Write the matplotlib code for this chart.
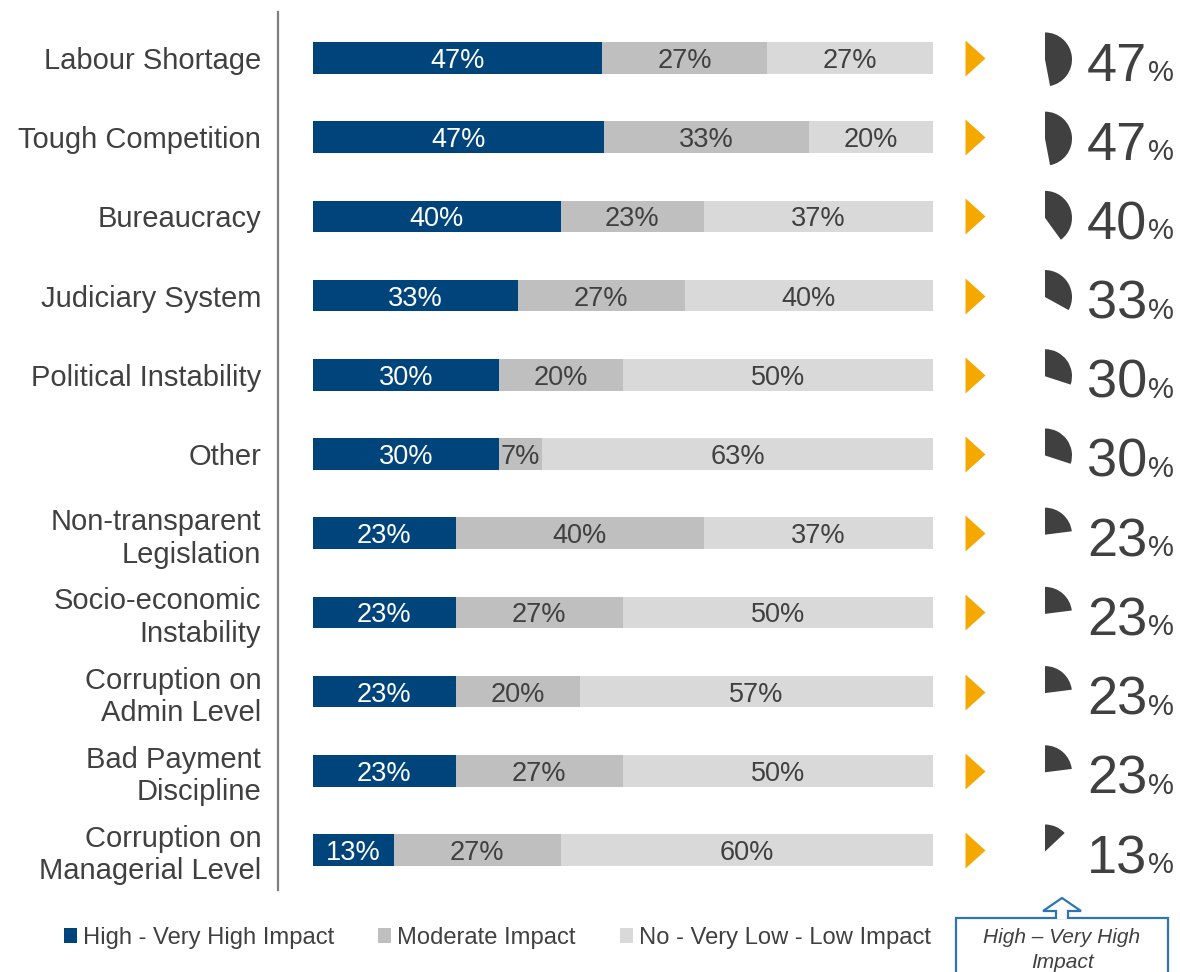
import numpy as np
import matplotlib
matplotlib.use("Agg")
import matplotlib.pyplot as plt
import matplotlib.patches as mpatches

categories = ["Labour Shortage", "Tough Competition", "Bureaucracy", "Judiciary System",
              "Political Instability", "Other", "Non-transparent\nLegislation",
              "Socio-economic\nInstability", "Corruption on\nAdmin Level",
              "Bad Payment\nDiscipline", "Corruption on\nManagerial Level"]
high = [47, 47, 40, 33, 30, 30, 23, 23, 23, 23, 13]
moderate = [27, 33, 23, 27, 20, 7, 40, 27, 20, 27, 27]
low = [27, 20, 37, 40, 50, 63, 37, 50, 57, 50, 60]
series_names = ["High - Very High Impact", "Moderate Impact", "No - Very Low - Low Impact"]

BLUE = "#00447C"
MID = "#BFBFBF"
LIGHT = "#D9D9D9"
TXT = "#404040"
ORANGE = "#F5A800"

plt.rcParams['font.family'] = ['Liberation Sans', 'DejaVu Sans']

W, H = 1180, 972
fig = plt.figure(figsize=(W / 100, H / 100), dpi=100)


def fx(px):
    return px / W


def fy(py):
    return 1 - py / H


top_px, bot_px = 12, 890
ylim = (10.505, -0.58)
k = (bot_px - top_px) / (ylim[0] - ylim[1])  # pixels per row unit

ax = fig.add_axes([fx(313), fy(bot_px), fx(933) - fx(313), fy(top_px) - fy(bot_px)])
data = np.array([high, moderate, low], dtype=float)
data = data / data.sum(axis=0) * 100
raw = [high, moderate, low]
y = np.arange(len(categories))
left = np.zeros(len(categories))
colors = [BLUE, MID, LIGHT]
txtcolors = ["white", TXT, TXT]
bars = []
for s in range(3):
    b = ax.barh(y, data[s], left=left, height=0.40, color=colors[s], label=series_names[s])
    bars.append(b)
    for i in range(len(categories)):
        ax.text(left[i] + data[s][i] / 2, y[i], f"{raw[s][i]}%", ha='center',
                va='center_baseline', fontsize=19.5, color=txtcolors[s])
    left += data[s]

ax.set_xlim(0, 100)
ax.set_ylim(*ylim)
ax.set_xticks([])
ax.set_yticks(y)
ax.set_yticklabels(categories)
ax.tick_params(axis='y', length=0, pad=12, labelsize=21, labelcolor=TXT)
for lab in ax.get_yticklabels():
    lab.set_linespacing(1.3)
for sp in ['top', 'right', 'bottom']:
    ax.spines[sp].set_visible(False)
ax.spines['left'].set_position(('outward', 35 * 0.72))
ax.spines['left'].set_color('#7F7F7F')
ax.spines['left'].set_linewidth(1.6)

# right side: arrows, pie markers and big numbers
ax2 = fig.add_axes([fx(940), fy(bot_px), fx(1180) - fx(940), fy(top_px) - fy(bot_px)])
ax2.set_xlim(0, 240 / k)
ax2.set_ylim(*ylim)
ax2.axis('off')

tri = [(-1, -1.8), (1, 0), (-1, 1.8), (-1, -1.8)]
ax2.scatter(np.full(len(y), (975 - 940) / k), y, marker=tri, s=(36 * 0.72) ** 2,
            color=ORANGE, linewidths=0)
for i, p in enumerate(high):
    w = mpatches.Wedge(((1045 - 940) / k, y[i] + 1.5 / k), 27 / k, 270, 270 + 360 * p / 100,
                       facecolor=TXT, edgecolor='none')
    ax2.add_patch(w)
    ax2.text((1147 - 940) / k, y[i] + 23 / k, f"{p}", ha='right', va='baseline',
             fontsize=39, color=TXT)
    ax2.text((1148 - 940) / k, y[i] + 23 / k, "%", ha='left', va='baseline',
             fontsize=21, color=TXT)

fig.legend(handles=bars, labels=series_names, loc='center left',
           bbox_to_anchor=(fx(64), fy(938)), ncol=3, frameon=False,
           handlelength=0.55, handleheight=0.55, handletextpad=0.25, columnspacing=1.85,
           borderpad=0, borderaxespad=0,
           prop={'size': 17.1}, labelcolor=TXT)

# callout box under the pie markers
box_col = "#2E75B6"
fig.patches.append(mpatches.Rectangle((fx(956), fy(985)), fx(1168) - fx(956), fy(918) - fy(985),
                                      transform=fig.transFigure, facecolor='white',
                                      edgecolor=box_col, linewidth=1.6))
arrow = mpatches.Polygon([(fx(1056), fy(919)), (fx(1056), fy(911)), (fx(1043), fy(911)),
                          (fx(1062), fy(898)), (fx(1081), fy(911)), (fx(1068), fy(911)),
                          (fx(1068), fy(919))], closed=False, transform=fig.transFigure,
                         facecolor='white', edgecolor=box_col, linewidth=1.6)
fig.patches.append(arrow)
fig.text(fx(1062), fy(950), "High – Very High\nImpact", ha='center', va='center',
         fontsize=15, style='italic', color=TXT, linespacing=1.35)

fig.savefig("out.png", dpi=100)
